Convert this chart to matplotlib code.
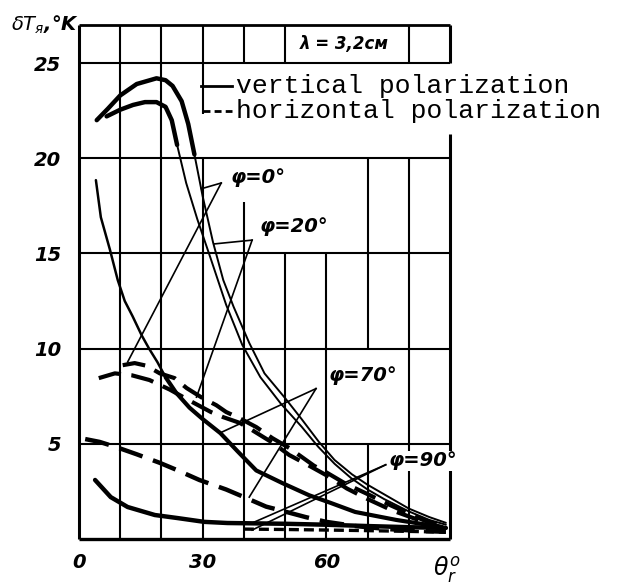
import matplotlib
matplotlib.use("Agg")
import matplotlib.pyplot as plt

plt.rcParams['mathtext.fontset'] = 'dejavusans'

# ---------------- data ----------------
theta_v0 = [4.3, 7, 10, 14, 18.8, 21, 22.7, 24.9, 26.5, 28, 30, 32.5, 35, 37.5, 41.3, 45, 50, 54, 58.2, 62, 66.2, 70, 74.4, 80, 85, 89]
dT_v0 = [22.0, 22.6, 23.3, 23.9, 24.2, 24.1, 23.8, 23.0, 21.8, 20.2, 18.0, 15.6, 13.6, 12.2, 10.3, 8.7, 7.4, 6.3, 5.1, 4.15, 3.4, 2.85, 2.3, 1.6, 1.15, 0.85]

theta_v20 = [6.7, 10, 13.1, 16, 18.8, 21, 22.5, 23.8, 26, 28.7, 32, 35.7, 39.6, 44, 49, 54, 58, 62, 66, 70, 74, 80, 85, 89]
dT_v20 = [22.2, 22.55, 22.8, 22.95, 22.95, 22.7, 22.0, 20.7, 18.7, 16.8, 14.7, 12.3, 10.2, 8.5, 7.1, 5.9, 4.85, 3.95, 3.2, 2.6, 2.1, 1.45, 1.0, 0.75]

theta_v70 = [4.1, 5.3, 7.5, 9.4, 11.1, 13, 15.2, 17, 19, 21, 23.5, 26.8, 30, 34.3, 38.5, 43, 49.3, 55.8, 61, 67, 77, 88]
dT_v70 = [18.85, 16.9, 15.2, 13.6, 12.5, 11.7, 10.7, 10.0, 9.3, 8.5, 7.7, 6.9, 6.3, 5.56, 4.6, 3.6, 2.94, 2.3, 1.9, 1.42, 1.0, 0.63]

theta_v90 = [3.9, 7.7, 11.8, 18.4, 23.9, 30.4, 36, 43, 50, 60, 70, 80, 89]
dT_v90 = [3.1, 2.2, 1.68, 1.26, 1.1, 0.9, 0.84, 0.82, 0.8, 0.75, 0.68, 0.62, 0.58]

theta_h0 = [10.6, 13.5, 16.4, 19.6, 23.2, 26.1, 30, 33.3, 35.7, 38.9, 43, 46.9, 51, 54.1, 57, 60, 64.7, 69.6, 75.8, 84, 89]
dT_h0 = [9.13, 9.24, 9.1, 8.7, 8.45, 7.93, 7.4, 7.03, 6.67, 6.35, 5.88, 5.3, 4.78, 4.3, 3.85, 3.5, 2.9, 2.4, 1.75, 0.95, 0.65]

theta_h20 = [4.8, 8.7, 12.8, 17.1, 22, 27, 32, 35, 39, 42, 47, 51, 55, 60, 65, 70, 76, 83, 89]
dT_h20 = [8.45, 8.7, 8.6, 8.35, 7.85, 7.25, 6.67, 6.4, 6.1, 5.72, 5.05, 4.41, 3.95, 3.35, 2.65, 2.1, 1.5, 0.95, 0.55]

theta_h70 = [1.5, 5, 9.4, 14, 19.6, 24, 29.2, 35.7, 40.6, 45.4, 48.6, 55, 60, 67, 75, 83, 89]
dT_h70 = [5.25, 5.1, 4.8, 4.45, 4.0, 3.6, 3.1, 2.6, 2.15, 1.7, 1.52, 1.15, 0.9, 0.68, 0.52, 0.42, 0.38]

theta_h90 = [40, 50, 60, 70, 80, 89]
dT_h90 = [0.52, 0.5, 0.47, 0.44, 0.4, 0.36]

x_ticks = [0, 30, 60]
y_ticks = [5, 10, 15, 20, 25]
phi_labels = ["φ=0°", "φ=20°", "φ=70°", "φ=90°"]
legend_labels = ["vertical polarization", "horizontal polarization"]
wavelength_label = "λ = 3,2см"

# ---------------- figure ----------------
K = 'black'
fig = plt.figure(figsize=(6.19, 5.87), dpi=100)
ax = fig.add_axes([79 / 619, 48 / 587, 371 / 619, 514 / 587])
ax.set_xlim(0, 90)
ax.set_ylim(0, 27)
for s in ax.spines.values():
    s.set_visible(False)

# grid (hand-drawn style table with gaps)
def seg(xs, ys, lw=1.5):
    ax.plot(xs, ys, color=K, lw=lw, solid_capstyle='butt', clip_on=False, zorder=1)

for yy in [5, 10, 15, 20, 25]:
    seg([0, 90], [yy, yy])
seg([0, 90], [0, 0], lw=2.4)
seg([0, 90], [27, 27], lw=2.0)
vert_segments = {
    0: [(0, 27)],
    10: [(0, 27)],
    20: [(0, 27)],
    30: [(0, 20), (22.3, 27)],
    40: [(0, 17.7), (25, 27)],
    50: [(0, 15), (25, 27)],
    60: [(0, 15)],
    70: [(0, 5), (10, 20)],
    80: [(0, 20), (25, 27)],
    90: [(0, 21.3), (25, 27)],
}
for xx, parts in vert_segments.items():
    for y0, y1 in parts:
        seg([xx, xx], [y0, y1], lw=2.2 if xx in (0, 90) else 1.5)

# ---------------- curves ----------------
def curve(x, y, split, lw1, lw2, dashed=False, dash=(5.5, 2.5)):
    i = next(k for k, v in enumerate(x) if v >= split) if split is not None else len(x)
    kw = dict(color=K, zorder=3, solid_capstyle='round', dash_capstyle='butt')
    if dashed:
        kw['linestyle'] = (0, dash)
    if i > 0:
        ax.plot(x[:i + 1], y[:i + 1], lw=lw1, **kw)
    if i < len(x) - 1:
        ax.plot(x[i:], y[i:], lw=lw2, **kw)

curve(theta_v0, dT_v0, 28, 3.2, 1.4)
curve(theta_v20, dT_v20, 23.8, 3.2, 1.4)
curve(theta_v70, dT_v70, 20, 1.8, 3.0)
curve(theta_v90, dT_v90, None, 3.2, 3.2)
curve(theta_h0, dT_h0, None, 3.0, 3.0, dashed=True)
curve(theta_h20, dT_h20, None, 3.0, 3.0, dashed=True)
curve(theta_h70, dT_h70, None, 3.2, 3.2, dashed=True)
curve(theta_h90, dT_h90, None, 2.4, 2.4, dashed=True, dash=(3, 1.5))

# ---------------- phi labels with pointer lines ----------------
label_pos = [(36.8, 19.0), (43.7, 16.4), (60.6, 8.6), (75.1, 4.1)]
apexes = [(34.5, 18.7), (42.0, 15.7), (57.5, 7.9), (74.4, 3.9)]
pointer_targets = [[(29.7, 18.4), (11.8, 9.3)],
                   [(32.8, 15.5), (28.5, 7.45)],
                   [(34.1, 5.56), (41.3, 2.2)],
                   [(42.0, 0.84), (42.0, 0.47)]]
for lab, (tx, ty), (axx, ayy), tg in zip(phi_labels, label_pos, apexes, pointer_targets):
    for (gx, gy) in tg:
        ax.plot([axx, gx], [ayy, gy], color=K, lw=1.2, zorder=2)
    ax.text(tx, ty, lab, ha='left', va='center', fontsize=14, fontweight='bold',
            fontstyle='italic', zorder=5,
            bbox=dict(facecolor='white', edgecolor='none', pad=0.5))

# ---------------- legend (typewritten) ----------------
ax.plot([29.5, 37.2], [23.8, 23.8], color=K, lw=2.0, clip_on=False, zorder=3)
ax.plot([30.0, 37.2], [22.5, 22.5], color=K, lw=2.0, linestyle=(0, (2.5, 1.5)), clip_on=False, zorder=3)
ax.text(38.2, 23.8, legend_labels[0], ha='left', va='center', fontsize=19,
        family='Liberation Mono', clip_on=False)
ax.text(38.2, 22.5, legend_labels[1], ha='left', va='center', fontsize=19,
        family='Liberation Mono', clip_on=False)

# wavelength header
ax.text(64.3, 26.0, wavelength_label, ha='center', va='center', fontsize=12,
        fontstyle='italic', fontweight='bold')

# ---------------- ticks and axis labels ----------------
ax.set_xticks(x_ticks)
ax.set_yticks(y_ticks)
ax.set_xticklabels([str(v) for v in x_ticks], fontsize=14, fontweight='bold', fontstyle='italic')
ax.set_yticklabels([str(v) for v in y_ticks], fontsize=14, fontweight='bold', fontstyle='italic')
ax.tick_params(axis='x', length=0, pad=10)
ax.tick_params(axis='y', length=0, pad=13)

ax.text(-16.5, 27.0, r"$\delta T_{я}$,°K", ha='left', va='center', fontsize=14,
        fontstyle='italic', fontweight='bold', clip_on=False)
ax.text(89.3, -1.6, r"$\theta_{r}^{o}$", ha='center', va='center', fontsize=17,
        clip_on=False)

fig.savefig("out.png", dpi=100)
